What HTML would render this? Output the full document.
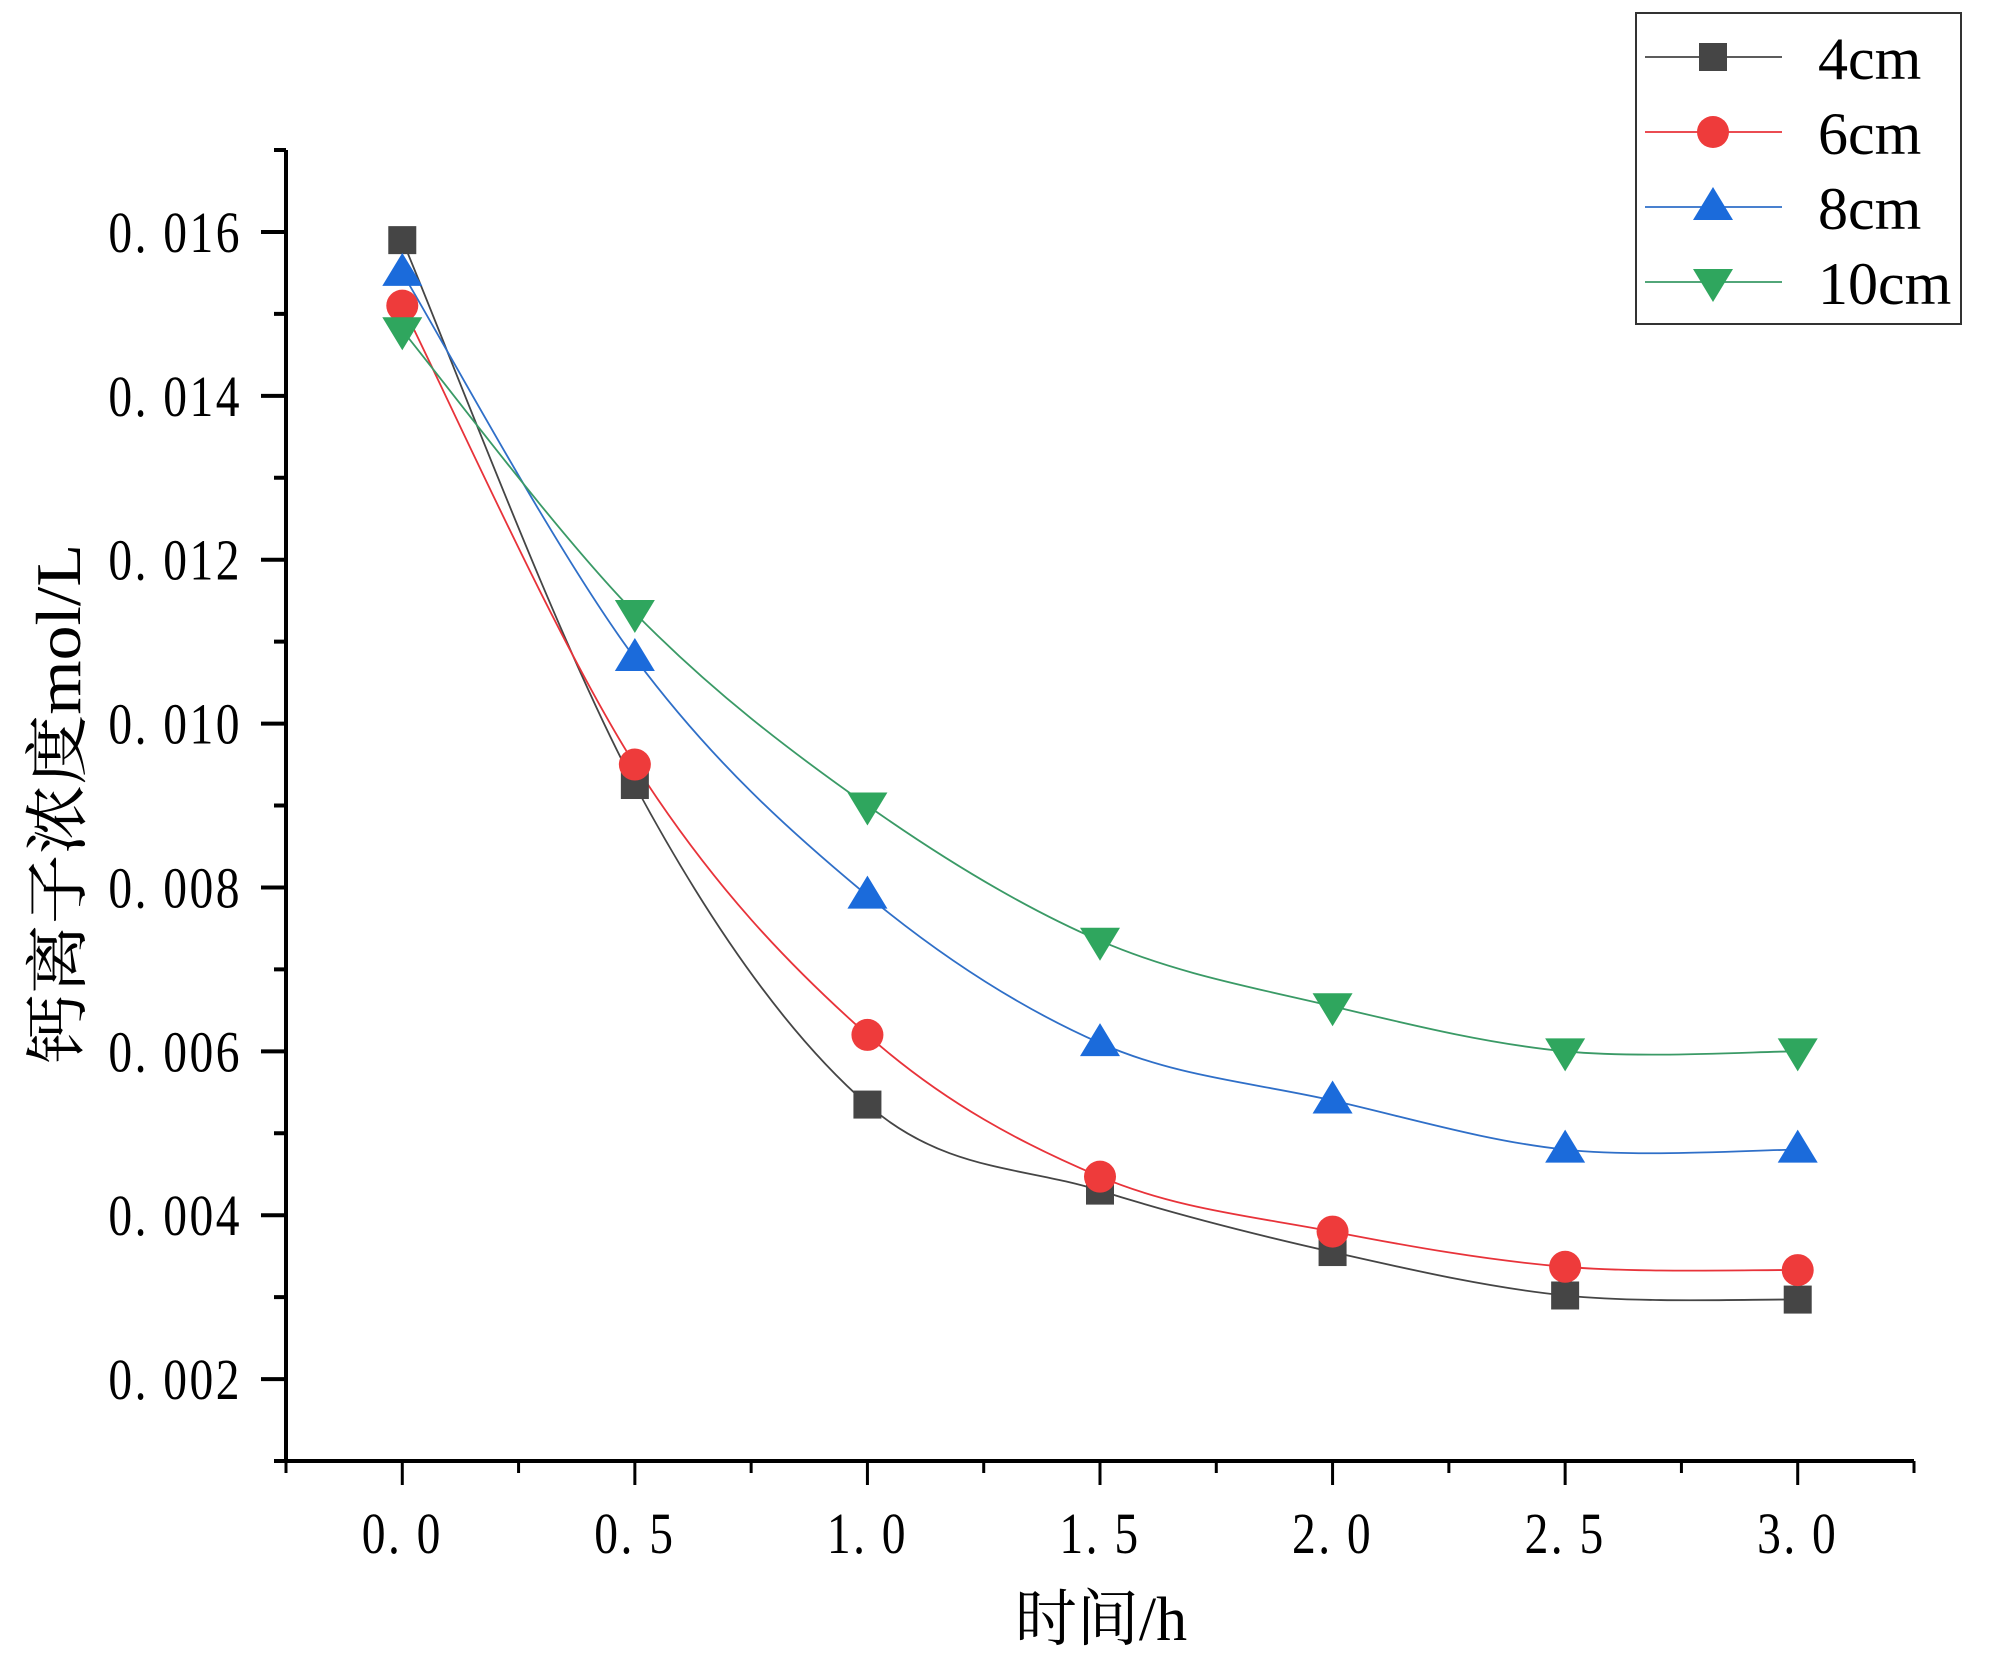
<!DOCTYPE html>
<html><head><meta charset="utf-8"><style>
html,body{margin:0;padding:0;background:#fff;}
svg{display:block;}
text{font-family:"Liberation Serif","Noto Serif CJK SC",serif;fill:#000;}
</style></head><body>
<svg id="chart" width="2000" height="1661" viewBox="0 0 2000 1661" xmlns="http://www.w3.org/2000/svg">
<g id="axes"></g>
<g id="series"></g>
<text x="1101" y="1640" font-size="62" text-anchor="middle">时间/h</text>
<text x="0" y="0" font-size="64" text-anchor="middle" textLength="520" lengthAdjust="spacingAndGlyphs" transform="translate(80,804) rotate(-90)">钙离子浓度mol/L</text>
<g>
<rect x="1636" y="13" width="325" height="311" fill="#fff" stroke="#333" stroke-width="2"/>
<g id="legend-items"></g>
</g>
</svg>
<script>
const times = [0, 0.5, 1.0, 1.5, 2.0, 2.5, 3.0];
const s4cm = [0.0159, 0.00925, 0.00535, 0.0043, 0.00355, 0.00302, 0.00297];
const s6cm = [0.0151, 0.0095, 0.0062, 0.00447, 0.0038, 0.00337, 0.00333];
const s8cm = [0.0155, 0.0108, 0.0079, 0.0061, 0.0054, 0.0048, 0.0048];
const s10cm = [0.0148, 0.01135, 0.0090, 0.00735, 0.00655, 0.0060, 0.0060];
const seriesNames = ["4cm", "6cm", "8cm", "10cm"];
const xTickLabels = ["0.0", "0.5", "1.0", "1.5", "2.0", "2.5", "3.0"];
const yTickLabels = ["0.002", "0.004", "0.006", "0.008", "0.010", "0.012", "0.014", "0.016"];

const NS = "http://www.w3.org/2000/svg";
const X0 = 286, X1 = 1914, Y0 = 1461, Y1 = 150;
const xMin = -0.25, xMax = 3.25, yMin = 0.001, yMax = 0.017;
function xs(v){ return X0 + (v - xMin) / (xMax - xMin) * (X1 - X0); }
function ys(v){ return Y0 - (v - yMin) / (yMax - yMin) * (Y0 - Y1); }
function mk(tag, attrs, parent){ const e = document.createElementNS(NS, tag); for (const k in attrs) e.setAttribute(k, attrs[k]); parent.appendChild(e); return e; }

const axes = document.getElementById("axes");
let e;
e = mk("line", {x1:X0, y1:Y1, x2:X0, y2:Y0+2, stroke:"#000", "stroke-width":4}, axes);


e = mk("line", {x1:X0-2, y1:Y0, x2:X1, y2:Y0, stroke:"#000", "stroke-width":4}, axes);


for (let i = 0; i <= 16; i++) {
  const v = yMin + i * 0.001;
  const major = i % 2 === 1;
  e = mk("line", {x1:X0 - (major ? 25 : 12), y1:ys(v), x2:X0, y2:ys(v), stroke:"#000", "stroke-width":4}, axes);
  
  
}
yTickLabels.forEach(l => {
  const v = parseFloat(l);
  const t = mk("text", {x:0, y:0, "font-size":58, "text-anchor":"end", "letter-spacing":"3", transform:`translate(242,${ys(v)+20}) scale(0.82,1)`}, axes);
  t.textContent = l.replace(".", ". ");
  
  
});
for (let i = 0; i <= 14; i++) {
  const v = xMin + i * 0.25;
  const major = i % 2 === 1;
  e = mk("line", {x1:xs(v), y1:Y0, x2:xs(v), y2:Y0 + (major ? 24 : 12), stroke:"#000", "stroke-width":3}, axes);
  
  
}
xTickLabels.forEach(l => {
  const v = parseFloat(l);
  const t = mk("text", {x:0, y:0, "font-size":58, "text-anchor":"middle", "letter-spacing":"3", transform:`translate(${xs(v)},1553) scale(0.82,1)`}, axes);
  t.textContent = l.replace(".", ". ");
  
  
});

const colors = ["#454545", "#EE3B3B", "#1B6BDB", "#2FA65E"];
const lineColors = ["#454545", "#E8333A", "#2F6FC8", "#3A9A66"];
const shapes = ["square", "circle", "up", "down"];
const allSeries = [s4cm, s6cm, s8cm, s10cm];

function marker(shape, cx, cy, color, parent){
  if (shape === "square") return mk("rect", {x:cx-14, y:cy-14, width:28, height:28, fill:color}, parent);
  if (shape === "circle") return mk("circle", {cx:cx, cy:cy, r:16, fill:color}, parent);
  if (shape === "up") return mk("polygon", {points:`${cx},${cy-20} ${cx+20},${cy+13} ${cx-20},${cy+13}`, fill:color}, parent);
  return mk("polygon", {points:`${cx-20},${cy-13} ${cx+20},${cy-13} ${cx},${cy+20}`, fill:color}, parent);
}

function splinePath(px, py){
  let d = `M${px[0]},${py[0]}`;
  for (let i = 0; i < px.length - 1; i++) {
    const p0x = px[Math.max(i-1,0)], p0y = py[Math.max(i-1,0)];
    const p3x = px[Math.min(i+2,px.length-1)], p3y = py[Math.min(i+2,px.length-1)];
    const c1x = px[i] + (px[i+1]-p0x)/6, c1y = py[i] + (py[i+1]-p0y)/6;
    const c2x = px[i+1] - (p3x-px[i])/6, c2y = py[i+1] - (p3y-py[i])/6;
    d += ` C${c1x},${c1y} ${c2x},${c2y} ${px[i+1]},${py[i+1]}`;
  }
  return d;
}

const sg = document.getElementById("series");
allSeries.forEach((vals, si) => {
  const g = mk("g", {}, sg);
  
  
  const px = times.map(xs), py = vals.map(ys);
  const p = mk("path", {d:splinePath(px, py), fill:"none", stroke:lineColors[si], "stroke-width":1.8}, g);
  
  
});
allSeries.forEach((vals, si) => {
  vals.forEach((v, i) => {
    const m = marker(shapes[si], xs(times[i]), ys(v), colors[si], sg);
    
    
  });
});

const lg = document.getElementById("legend-items");
seriesNames.forEach((n, i) => {
  const y = 57 + i * 75;
  const g = mk("g", {}, lg);
  
  
  mk("line", {x1:1645, y1:y, x2:1782, y2:y, stroke:lineColors[i], "stroke-width":1.8}, g);
  marker(shapes[i], 1713, y, colors[i], g);
  const t = mk("text", {x:1818, y:y+22, "font-size":60}, g);
  t.textContent = n;
  
  
});
</script>
</body></html>
